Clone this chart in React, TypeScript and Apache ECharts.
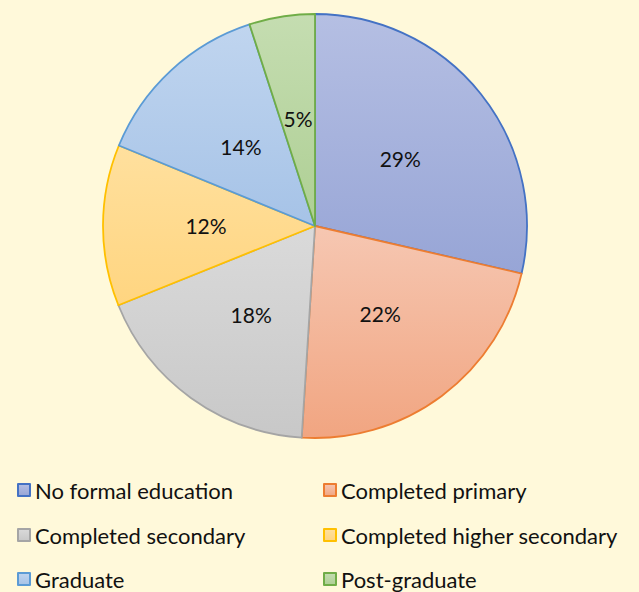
import React, { useEffect, useRef } from "react";
import * as echarts from "echarts";

const categories = [
  "No formal education",
  "Completed primary",
  "Completed secondary",
  "Completed higher secondary",
  "Graduate",
  "Post-graduate",
];
const shares = [28.6, 22.4, 17.9, 12.3, 13.8, 5.0];
const borderColors = ["#4472C4", "#ED7D31", "#A5A5A5", "#FFC000", "#5B9BD5", "#70AD47"];
const topColors = ["#B5BFE3", "#F6C7B2", "#DADADA", "#FFE09E", "#C0D5EF", "#C5DDB1"];
const bottomColors = ["#97A5D6", "#F1A581", "#C8C8C8", "#FFD580", "#A6C3E7", "#AECF94"];

const legendColumnX = [17, 323];
const legendRowY = [490, 535, 579];

const FONT = "Lato, 'Open Sans', sans-serif";

export default function App() {
  const ref = useRef<HTMLDivElement>(null);
  useEffect(() => {
    document.body.style.margin = "0";
    const chart = echarts.init(ref.current!, null, { renderer: "svg" });
    const data = categories.map((name, i) => ({
      name,
      value: shares[i],
      itemStyle: {
        color: new echarts.graphic.LinearGradient(0, 0, 0, 1, [
          { offset: 0, color: topColors[i] },
          { offset: 1, color: bottomColors[i] },
        ]),
        borderColor: borderColors[i],
        borderWidth: 1.8,
      },
    }));
    const legends = categories.map((name, i) => ({
      orient: "horizontal" as const,
      left: legendColumnX[i % 2],
      top: legendRowY[Math.floor(i / 2)] - 11,
      padding: 0,
      itemWidth: 12,
      itemHeight: 12,
      icon: "rect",
      selectedMode: false,
      data: [name],
      textStyle: { fontFamily: FONT, fontSize: 22, color: "#111", lineHeight: 22 },
    }));
    chart.setOption({
      animation: false,
      backgroundColor: "#FFF9DA",
      legend: legends,
      series: [
        {
          type: "pie",
          center: [315, 226],
          radius: [0, 212],
          startAngle: 90,
          clockwise: true,
          data,
          label: {
            show: true,
            position: "inside",
            formatter: (p: any) => Math.round(p.value) + "%",
            fontFamily: FONT,
            fontSize: 21,
            color: "#111",
          },
          labelLine: { show: false },
          emphasis: { disabled: true },
        },
      ],
    });
    return () => chart.dispose();
  }, []);
  return <div ref={ref} style={{ width: 639, height: 592 }} />;
}
